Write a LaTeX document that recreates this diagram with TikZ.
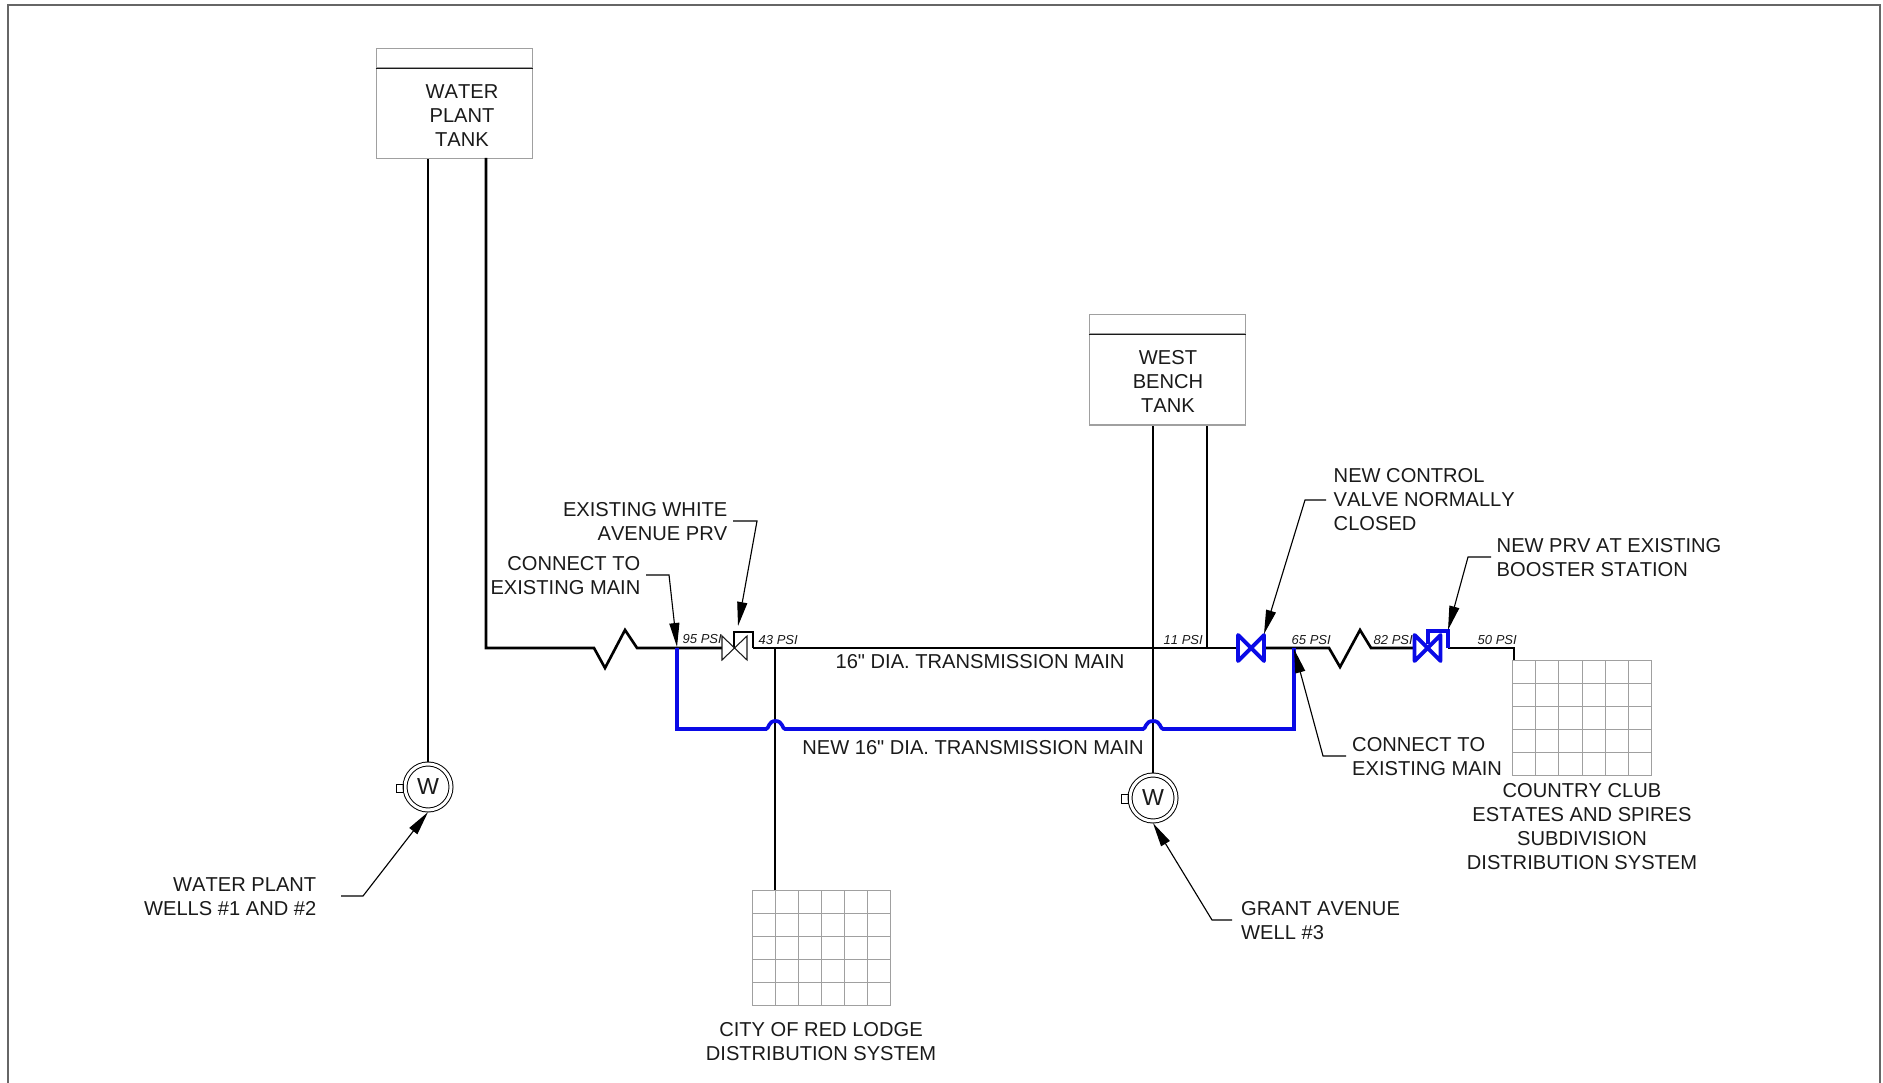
\documentclass[tikz,border=0pt]{standalone}
\usepackage{fontspec}
\setmainfont{Liberation Sans}[Ligatures=TeXOff,Kerning=Off]
\usepackage{xcolor}
\usetikzlibrary{arrows.meta,positioning}
\definecolor{newblue}{HTML}{0A0AE6}
\definecolor{framegray}{HTML}{666666}
\definecolor{boxgray}{HTML}{A0A0A0}
\definecolor{inkblack}{HTML}{1A1A1A}

\begin{document}
\begin{tikzpicture}[x=0.01cm,y=-0.01cm,
    every node/.style={font=\fontsize{5.72}{6.83}\selectfont,text=inkblack,inner sep=0pt},
    pipe/.style={line width=0.75pt,black,line join=miter},
    thinpipe/.style={line width=0.55pt,black},
    newpipe/.style={line width=1.05pt,newblue,line join=miter},
    leader/.style={line width=0.32pt,black,-{Triangle[length=0.24cm,width=0.1cm]}},
    tankbox/.style={draw=boxgray,line width=0.3pt,minimum width=1.56cm},
    gridbox/.style={draw=boxgray,line width=0.3pt,minimum width=1.385cm,minimum height=1.155cm},
    gridline/.style={boxgray,line width=0.3pt},
    wellnode/.style={circle,draw=black,line width=0.28pt,double,double distance=0.85pt,minimum size=0.46cm,outer sep=0.6pt,font=\fontsize{6.6}{7}\selectfont},
    psi/.style={font=\fontsize{3.7}{4.4}\selectfont\itshape,anchor=west},
    note/.style={align=center}]
  \useasboundingbox (0,0) rectangle (1883,1083);
  \draw[framegray,line width=0.55pt] (8,1083) -- (8,5) -- (1880,5) -- (1880,1083);

  % tanks
  \node[tankbox,minimum height=0.895cm] (plantbody) at (454.5,113.5) {};
  \node[tankbox,minimum height=0.19cm,above=0pt of plantbody] (planthead) {};
  \draw[line width=0.3pt,inkblack] (planthead.south west) -- (planthead.south east);
  \node[note] (planttext) at (462,115.5) {WATER\\PLANT\\TANK};
  \node[tankbox,minimum height=0.90cm] (benchbody) at (1167.5,380) {};
  \node[tankbox,minimum height=0.19cm,above=0pt of benchbody] (benchhead) {};
  \draw[line width=0.3pt,inkblack] (benchhead.south west) -- (benchhead.south east);
  \node[note] (benchtext) at (1168,381.5) {WEST\\BENCH\\TANK};

  % distribution grids
  \node[gridbox] (redlodge) at (821.5,948) {};
  \node[gridbox] (country) at (1582,718) {};
  \foreach \i in {1,...,5} {
    \draw[gridline] ({752+\i*23.17},890) -- ({752+\i*23.17},1006);
    \draw[gridline] ({1512.5+\i*23.17},660) -- ({1512.5+\i*23.17},776);
  }
  \foreach \i in {1,...,4} {
    \draw[gridline] (752,{890+\i*23.2}) -- (891,{890+\i*23.2});
    \draw[gridline] (1512.5,{660+\i*23.2}) -- (1651.5,{660+\i*23.2});
  }

  % wells
  \node[wellnode] (wellone) at (428,787) {W};
  \node[wellnode] (welltwo) at (1153,798) {W};
  \draw[line width=0.28pt] (396,784) rectangle (403,792);
  \draw[line width=0.28pt] (1121,794) rectangle (1128,803);

  % existing piping
  \coordinate (plantout) at (486,158);
  \coordinate (plantcorner) at (486,648);
  \coordinate (zigone) at (594,648);
  \coordinate (zigonelow) at (605,668);
  \coordinate (zigonehigh) at (625,630);
  \coordinate (zigoneend) at (637,648);
  \coordinate (connectwest) at (677,648);
  \coordinate (prvin) at (722,648);
  \coordinate (prvout) at (753,648);
  \coordinate (citytap) at (775,648);
  \coordinate (benchfill) at (1207,648);
  \coordinate (closedin) at (1238,648);
  \coordinate (closedout) at (1264,648);
  \coordinate (connecteast) at (1294,648);
  \coordinate (zigtwo) at (1329,648);
  \coordinate (zigtwolow) at (1340,667);
  \coordinate (zigtwohigh) at (1360,630);
  \coordinate (zigtwoend) at (1371,648);
  \coordinate (boosterin) at (1415,648);
  \coordinate (boosterout) at (1448,648);
  \coordinate (countrytap) at (1514,648);
  \draw[pipe] (plantout) -- (plantcorner) -- (zigone) -- (zigonelow) -- (zigonehigh) -- (zigoneend) -- (prvin);
  \draw[pipe] (prvout) -- (closedin);
  \draw[pipe] (closedout) -- (zigtwo) -- (zigtwolow) -- (zigtwohigh) -- (zigtwoend) -- (boosterin);
  \draw[pipe] (boosterout) -- (countrytap) -- (countrytap |- country.north);
  \draw[thinpipe] (wellone.north) -- (wellone.north |- plantbody.south);
  \draw[thinpipe] (welltwo.north) -- (welltwo.north |- benchbody.south);
  \draw[pipe] (benchfill) -- (benchfill |- benchbody.south);
  \draw[thinpipe] (citytap) -- (citytap |- redlodge.north);

  % new main
  \coordinate (newsw) at (677,729);
  \coordinate (newse) at (1294,729);
  \draw[newpipe] (connectwest) -- (newsw) -- (766,729) .. controls (769,729) and (768,721) .. (775.5,721) .. controls (783,721) and (782,729) .. (785,729)
    -- (1143,729) .. controls (1146,729) and (1145,721) .. (1153,721) .. controls (1161,721) and (1160,729) .. (1163,729) -- (newse) -- (connecteast);

  % valves
  \draw[line width=0.75pt,fill=white] (734,648) -- (734,632) -- (753,632) -- (prvout);
  \draw[line width=0.3pt,inkblack,fill=white] (722,636) -- (722,660) -- (747,636) -- (747,660) -- cycle;
  \foreach \vx in {1251,1427.5}
    \draw[line width=1.1pt,newblue,line join=round,line cap=round] ({\vx-13},635) -- ({\vx-13},661) -- ({\vx+13},635) -- ({\vx+13},661) -- cycle;
  \draw[line width=0.95pt,newblue] (1428,644) -- (1428,631) -- (1448,631) -- (boosterout);

  % pressures
  \foreach \x/\y/\lbl in {682/639/95 PSI,758/640/43 PSI,1163/640/11 PSI,1291/640/65 PSI,1373/640/82 PSI,1477/640/50 PSI}
    \node[psi] (psi\x) at (\x,\y) {\lbl};

  % labels
  \node[note] (mainlabel) at (980,661.5) {16" DIA. TRANSMISSION MAIN};
  \node[note] (newlabel) at (973,748) {NEW 16" DIA. TRANSMISSION MAIN};
  \node[note] (citylabel) at (821,1042) {CITY OF RED LODGE\\DISTRIBUTION SYSTEM};
  \node[note] (countrylabel) at (1582,826.5) {COUNTRY CLUB\\ESTATES AND SPIRES\\SUBDIVISION\\DISTRIBUTION SYSTEM};
  \node[align=right,anchor=east] (wellnote) at (317,897) {WATER PLANT\\WELLS \#1 AND \#2};
  \node[align=right,anchor=east] (whitenote) at (728,522) {EXISTING WHITE\\AVENUE PRV};
  \node[align=right,anchor=east] (westnote) at (641,576) {CONNECT TO\\EXISTING MAIN};
  \node[align=left,anchor=west] (grantnote) at (1240.5,921) {GRANT AVENUE\\WELL \#3};
  \node[align=left,anchor=west] (eastnote) at (1351.5,757) {CONNECT TO\\EXISTING MAIN};
  \node[align=left,anchor=west] (closednote) at (1333,500) {NEW CONTROL\\VALVE NORMALLY\\CLOSED};
  \node[align=left,anchor=west] (boosternote) at (1496,558) {NEW PRV AT EXISTING\\BOOSTER STATION};

  % leaders
  \coordinate (prvtip) at (738,626);
  \coordinate (westtip) at (677,647);
  \coordinate (easttip) at (1294,649);
  \coordinate (closedtip) at (1264,634);
  \coordinate (boostertip) at (1448,630);
  \draw[leader] ([xshift=0.24cm,yshift=0.01cm]wellnote.east) -- ++(22,0) -- (wellone.south);
  \draw[leader] ([xshift=0.05cm,yshift=0.01cm]whitenote.east) -- ++(24,0) -- (prvtip);
  \draw[leader] ([xshift=0.05cm,yshift=0.01cm]westnote.east) -- ++(23,0) -- (westtip);
  \draw[leader] ([xshift=-0.085cm,yshift=0.01cm]grantnote.west) -- ++(-20,0) -- (welltwo.south);
  \draw[leader] ([xshift=-0.055cm,yshift=0.01cm]eastnote.west) -- ++(-23,0) -- (easttip);
  \draw[leader] ([xshift=-0.07cm]closednote.west) -- ++(-21,0) -- (closedtip);
  \draw[leader] ([xshift=-0.05cm,yshift=0.01cm]boosternote.west) -- ++(-23,0) -- (boostertip);
\end{tikzpicture}
\end{document}
